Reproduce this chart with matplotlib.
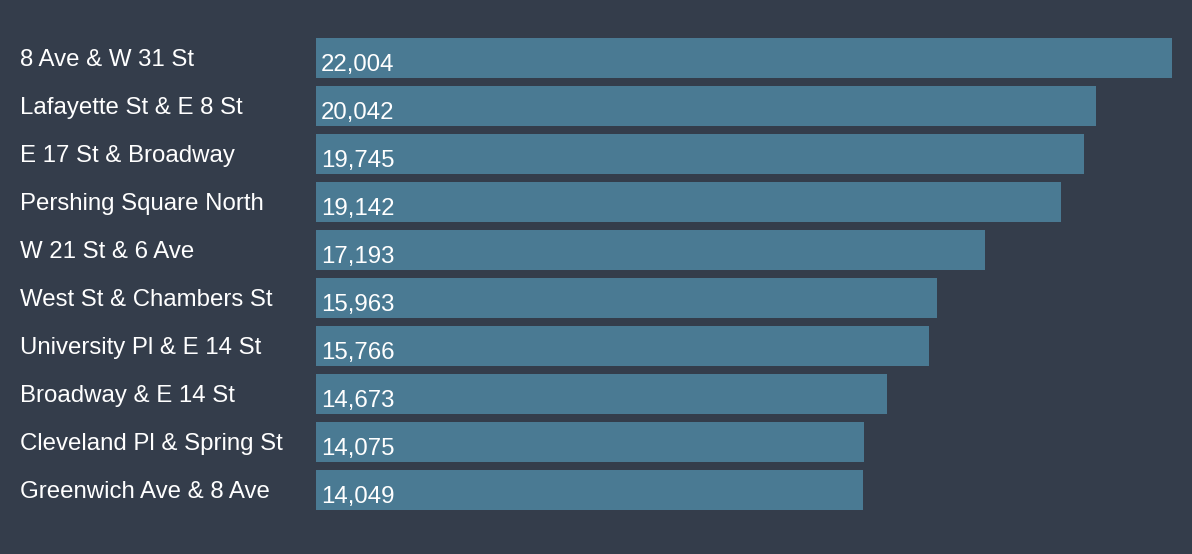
"""Top 10 Citi Bike start stations as a horizontal bar chart."""
import matplotlib
matplotlib.use("Agg")
import matplotlib.pyplot as plt
from matplotlib.transforms import blended_transform_factory, offset_copy

STATIONS = [
    "8 Ave & W 31 St",
    "Lafayette St & E 8 St",
    "E 17 St & Broadway",
    "Pershing Square North",
    "W 21 St & 6 Ave",
    "West St & Chambers St",
    "University Pl & E 14 St",
    "Broadway & E 14 St",
    "Cleveland Pl & Spring St",
    "Greenwich Ave & 8 Ave",
]
TRIPS = [22004, 20042, 19745, 19142, 17193, 15963, 15766, 14673, 14075, 14049]

BG = "#343d4b"
BAR = "#4a7a93"
W, H = 1192, 554

plt.rcParams["font.family"] = ["Liberation Sans", "DejaVu Sans"]

fig = plt.figure(figsize=(W / 100, H / 100), dpi=100, facecolor=BG)
ax = fig.add_axes([316 / W, (H - 510) / H, 856 / W, 472 / H])
ax.set_facecolor(BG)

bar_h = 40 / 48
ypos = list(range(len(STATIONS)))
ax.barh(ypos, TRIPS, height=bar_h, color=BAR, linewidth=0)

ax.set_xlim(0, max(TRIPS))
ax.set_ylim(len(STATIONS) - 1 + bar_h / 2, -bar_h / 2)
ax.axis("off")

# station names sit in the left margin, a little above the bar centre
label_tr = blended_transform_factory(fig.transFigure, ax.transData)
for y, name in zip(ypos, STATIONS):
    ax.text(20 / W, y + 8 / 48, name, transform=label_tr, color="white",
            fontsize=17.3, ha="left", va="baseline")

value_tr = offset_copy(ax.transData, fig=fig, x=5, y=0, units="dots")
for y, v in zip(ypos, TRIPS):
    ax.text(0, y + 13 / 48, f"{v:,}", transform=value_tr, color="white",
            fontsize=17.3, ha="left", va="baseline")

fig.savefig("out.png", dpi=100, facecolor=BG)
